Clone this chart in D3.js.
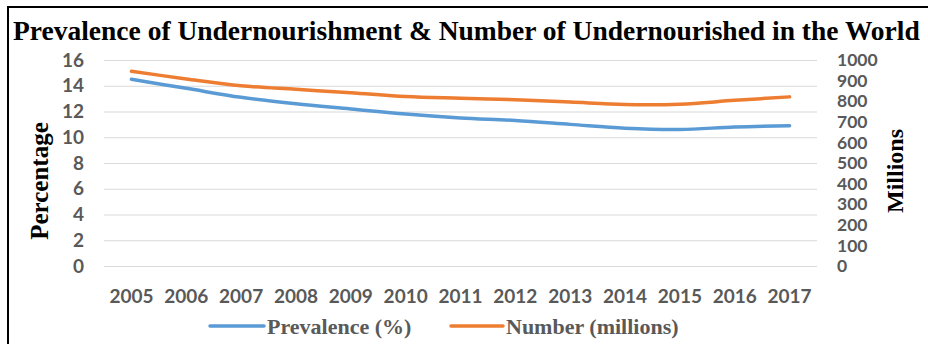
<!DOCTYPE html>
<html>
<head>
<meta charset="utf-8">
<script src="https://cdn.jsdelivr.net/npm/d3@7"></script>
<style>
  html, body { margin: 0; padding: 0; background: #fff; }
  svg { display: block; }
  .tick text { font-family: Lato, "Open Sans", sans-serif; font-weight: 700; fill: #595959; }
  .serif { font-family: "Liberation Serif", "Times New Roman", serif; font-weight: 700; }
</style>
</head>
<body>
<svg id="chart"></svg>
<script>
'use strict';

const WIDTH = 928;
const HEIGHT = 344;

const years = [2005, 2006, 2007, 2008, 2009, 2010, 2011, 2012, 2013, 2014, 2015, 2016, 2017];
const prevalence = [14.5, 13.8, 13.1, 12.6, 12.2, 11.8, 11.5, 11.3, 11.0, 10.7, 10.6, 10.8, 10.9];
const numberMillions = [945.2, 908.0, 875.0, 857.7, 841.2, 822.3, 814.3, 807.4, 795.6, 783.7, 785.4, 804.2, 821.0];
const leftTicks = [0, 2, 4, 6, 8, 10, 12, 14, 16];
const rightTicks = [0, 100, 200, 300, 400, 500, 600, 700, 800, 900, 1000];

const series = [
  { name: 'Prevalence (%)', values: prevalence, axis: 'left', color: '#5B9BD5' },
  { name: 'Number (millions)', values: numberMillions, axis: 'right', color: '#ED7D31' },
];

const plot = { left: 104, right: 817, top: 60, bottom: 266 };

const svg = d3.select('#chart')
  .attr('width', WIDTH)
  .attr('height', HEIGHT)
  .attr('viewBox', `0 0 ${WIDTH} ${HEIGHT}`);

// outer frame (right and bottom edges fall outside the picture)
svg.append('rect')
  .attr('x', 8).attr('y', 7)
  .attr('width', WIDTH + 20).attr('height', HEIGHT + 20)
  .attr('fill', 'none').attr('stroke', '#000').attr('stroke-width', 2);

const x = d3.scaleBand().domain(years).range([plot.left, plot.right]).paddingInner(0).paddingOuter(0);
const xc = d => x(d) + x.bandwidth() / 2;
const yL = d3.scaleLinear().domain([0, 16]).range([plot.bottom, plot.top]);
const yR = d3.scaleLinear().domain([0, 1000]).range([plot.bottom, plot.top]);

// gridlines
svg.append('g')
  .attr('transform', `translate(${plot.left},0)`)
  .call(d3.axisLeft(yL).tickValues(leftTicks).tickSize(-(plot.right - plot.left)).tickFormat(''))
  .call(g => g.select('.domain').remove())
  .call(g => g.selectAll('line').attr('stroke', '#d9d9d9').attr('stroke-width', 1));

// left axis labels
svg.append('g')
  .attr('transform', `translate(${plot.left},0)`)
  .call(d3.axisLeft(yL).tickValues(leftTicks).tickSize(0).tickPadding(20))
  .call(g => g.select('.domain').remove())
  .call(g => g.selectAll('text').attr('font-size', 19));

// right axis labels
svg.append('g')
  .attr('transform', `translate(${plot.right},0)`)
  .call(d3.axisRight(yR).tickValues(rightTicks).tickSize(0).tickPadding(20).tickFormat(d3.format('d')))
  .call(g => g.select('.domain').remove())
  .call(g => g.selectAll('text').attr('font-size', 17.5));

// year labels
svg.append('g')
  .attr('transform', `translate(0,${plot.bottom})`)
  .call(d3.axisBottom(x).tickSize(0).tickPadding(24))
  .call(g => g.select('.domain').remove())
  .call(g => g.selectAll('text').attr('font-size', 19));

// lines
const lineFor = s => d3.line()
  .x((d, i) => xc(years[i]))
  .y(d => (s.axis === 'left' ? yL(d) : yR(d)))
  .curve(d3.curveCatmullRom.alpha(0.5));

series.forEach(s => {
  svg.append('path')
    .datum(s.values)
    .attr('fill', 'none')
    .attr('stroke', s.color)
    .attr('stroke-width', 3.5)
    .attr('stroke-linecap', 'round')
    .attr('d', lineFor(s));
});

// title
svg.append('text')
  .attr('class', 'serif')
  .attr('x', 13).attr('y', 40)
  .attr('font-size', 27.5)
  .attr('fill', '#000')
  .text('Prevalence of Undernourishment & Number of Undernourished in the World');

// axis titles
svg.append('text')
  .attr('class', 'serif')
  .attr('transform', 'translate(48,181) rotate(-90)')
  .attr('text-anchor', 'middle')
  .attr('font-size', 25)
  .attr('fill', '#000')
  .text('Percentage');

svg.append('text')
  .attr('class', 'serif')
  .attr('transform', 'translate(903,171) rotate(-90)')
  .attr('text-anchor', 'middle')
  .attr('font-size', 24)
  .attr('fill', '#000')
  .text('Millions');

// legend
const legendPos = [{ x1: 210, x2: 264 }, { x1: 451, x2: 503 }];
const legend = svg.append('g').attr('class', 'legend');
series.forEach((s, i) => {
  const p = legendPos[i];
  legend.append('line')
    .attr('x1', p.x1).attr('x2', p.x2).attr('y1', 326).attr('y2', 326)
    .attr('stroke', s.color).attr('stroke-width', 3.5).attr('stroke-linecap', 'round');
  legend.append('text')
    .attr('class', 'serif')
    .attr('x', p.x2 + 3).attr('y', 334)
    .attr('font-size', 22)
    .attr('fill', '#595959')
    .text(s.name);
});
</script>
</body>
</html>
